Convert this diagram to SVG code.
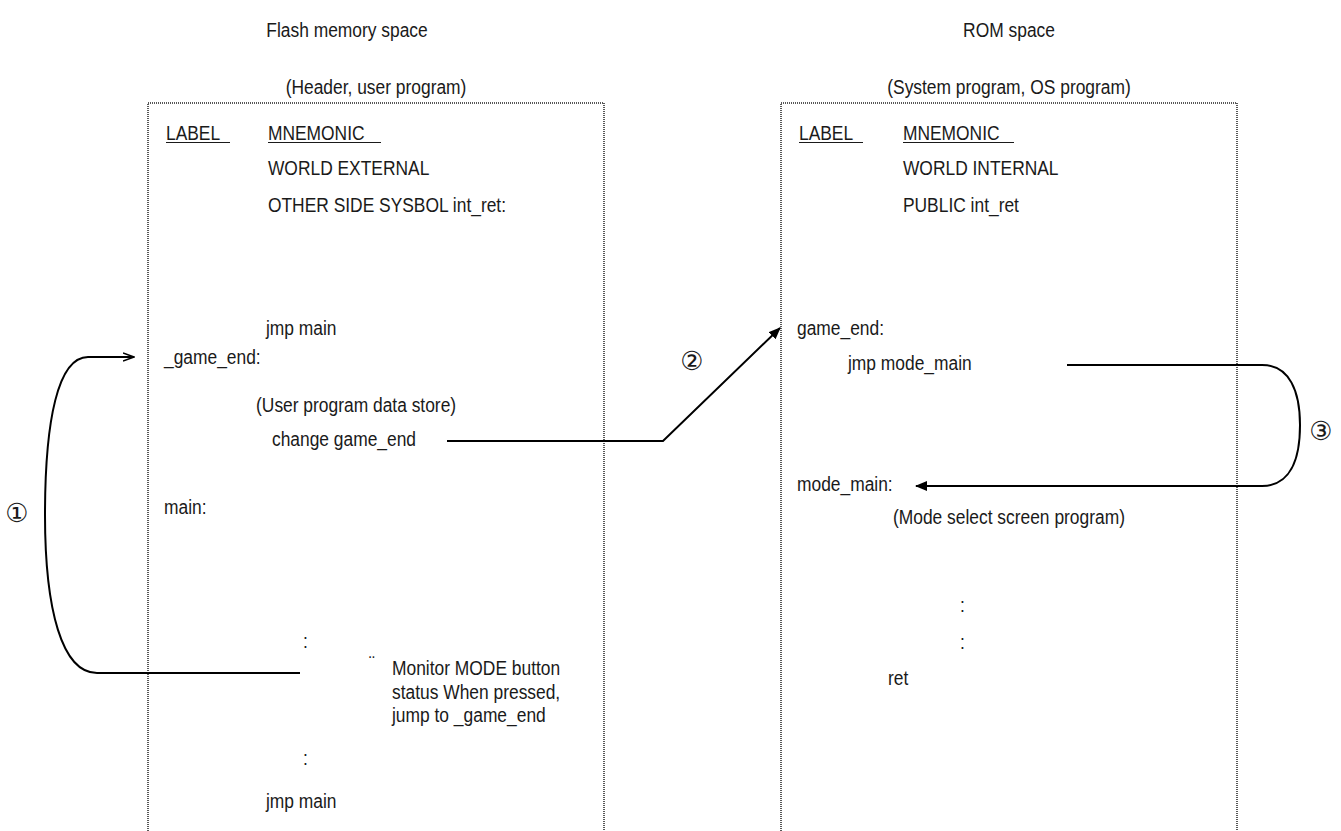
<svg xmlns="http://www.w3.org/2000/svg" width="1341" height="831" viewBox="0 0 1341 831">
<style>
text{font-family:"Liberation Sans",Arial,sans-serif;font-size:20px;fill:#1a1a1a}
.box{fill:none;stroke:#222;stroke-width:1.5;stroke-dasharray:1 1}
.ul{stroke:#1a1a1a;stroke-width:1.2}
.conn{fill:none;stroke:#000;stroke-width:2}
.num{font-family:"DejaVu Sans","Noto Sans CJK JP",sans-serif;font-size:26px;text-anchor:middle}
.mid{text-anchor:middle}
</style>
<defs>
<marker id="ah" viewBox="0 0 12 10" refX="11" refY="5" markerWidth="12" markerHeight="10" markerUnits="userSpaceOnUse" orient="auto">
<path d="M0,0 L12,5 L0,10 Z" fill="#000"/>
</marker>
<marker id="ao" viewBox="0 0 12 10" refX="11" refY="5" markerWidth="12" markerHeight="10" markerUnits="userSpaceOnUse" orient="auto">
<path d="M0,1 L11,5 L0,9" fill="none" stroke="#000" stroke-width="1.5"/>
</marker>
</defs>
<g id="titles" transform="scale(0.87,1)">
<text x="398.9" y="37" class="mid">Flash memory space</text>
<text x="432.2" y="94" class="mid">(Header, user program)</text>
<text x="1159.8" y="37" class="mid">ROM space</text>
<text x="1159.8" y="94" class="mid">(System program, OS program)</text>
</g>
<g id="flash">
<rect class="box" x="148" y="103" width="456" height="760"/>
<line class="ul" x1="166" y1="142.5" x2="230" y2="142.5"/>
<line class="ul" x1="268" y1="142.5" x2="381" y2="142.5"/>
<g transform="scale(0.87,1)">
<text x="190.8" y="140">LABEL</text>
<text x="308" y="140">MNEMONIC</text>
<text x="308" y="175">WORLD EXTERNAL</text>
<text x="308" y="212">OTHER SIDE SYSBOL int_ret:</text>
<text x="305.7" y="335">jmp main</text>
<text x="188.5" y="364">_game_end:</text>
<text x="294.3" y="412">(User program data store)</text>
<text x="312.6" y="446">change game_end</text>
<text x="188.5" y="514">main:</text>
<text x="348.3" y="648">:</text>
<text x="424.1" y="670">¨</text>
<text x="450.6" y="675">Monitor MODE button</text>
<text x="450.6" y="699">status When pressed,</text>
<text x="450.6" y="722">jump to _game_end</text>
<text x="348.3" y="765">:</text>
<text x="305.7" y="808">jmp main</text>
</g>
</g>
<g id="rom">
<rect class="box" x="781" y="103" width="456" height="760"/>
<line class="ul" x1="799" y1="142.5" x2="863" y2="142.5"/>
<line class="ul" x1="903" y1="142.5" x2="1014" y2="142.5"/>
<g transform="scale(0.87,1)">
<text x="918.4" y="140">LABEL</text>
<text x="1037.9" y="140">MNEMONIC</text>
<text x="1037.9" y="175">WORLD INTERNAL</text>
<text x="1037.9" y="212">PUBLIC int_ret</text>
<text x="916.1" y="335">game_end:</text>
<text x="974.7" y="370">jmp mode_main</text>
<text x="916.1" y="491">mode_main:</text>
<text x="1026.4" y="524">(Mode select screen program)</text>
<text x="1103.4" y="612">:</text>
<text x="1103.4" y="649">:</text>
<text x="1020.7" y="685">ret</text>
</g>
</g>
<g id="connectors">
<path class="conn" d="M300,673 H97 C62,673 45,610 45,515 C45,420 58,357 88,357 H134" marker-end="url(#ao)"/>
<path class="conn" d="M447,441 H663 L780,328" marker-end="url(#ah)"/>
<path class="conn" d="M1067,365 H1262 C1290,365 1300,392 1300,425 C1300,460 1290,486 1262,486 H916" marker-end="url(#ah)"/>
<text class="num" x="17" y="522">①</text>
<text class="num" x="692" y="370">②</text>
<text class="num" x="1321" y="440">③</text>
</g>
</svg>
